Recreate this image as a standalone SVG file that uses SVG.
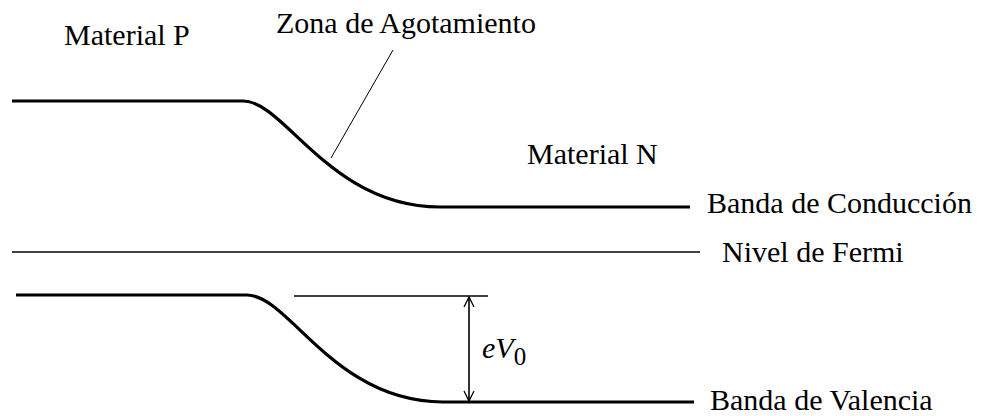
<svg xmlns="http://www.w3.org/2000/svg" width="982" height="416" viewBox="0 0 982 416">
<defs>
<marker id="open" viewBox="0 0 12 12" refX="11" refY="6" markerWidth="12" markerHeight="12" markerUnits="userSpaceOnUse" orient="auto-start-reverse">
<path d="M1,1 L11,6 L1,11" fill="none" stroke="#000" stroke-width="1.3"/>
</marker>
</defs>
<style>
text{font-family:"Liberation Serif","Times New Roman",serif;font-size:30px;fill:#000}
.band{fill:none;stroke:#000;stroke-width:3.2}
.thin{fill:none;stroke:#000;stroke-width:1.6}
.lead{fill:none;stroke:#000;stroke-width:1}
</style>
<rect width="982" height="416" fill="#fff"/>
<g id="connectors">
<path id="conduction-band" class="band" d="M12,101 L243,101 C285,101 330,207 440,207 L690,207"/>
<path id="fermi-level" class="thin" d="M12,252 L700,252"/>
<path id="valence-band" class="band" d="M16,295 L247,295 C289,295 334,402 443,402 L694,402"/>
<path id="ref-line" class="thin" d="M294,296 L488,296"/>
<path id="zona-lead" class="lead" d="M393,50 L331,158"/>
<path id="eV0-arrow" class="thin" d="M469,297 L469,401" marker-start="url(#open)" marker-end="url(#open)"/>
</g>
<g id="label-material-p"><text x="64" y="45">Material P</text></g>
<g id="label-zona"><text x="276" y="33">Zona de Agotamiento</text></g>
<g id="label-material-n"><text x="527" y="164">Material N</text></g>
<g id="label-conduccion"><text x="707" y="213">Banda de Conducción</text></g>
<g id="label-fermi"><text x="722" y="262">Nivel de Fermi</text></g>
<g id="label-valencia"><text x="710" y="410">Banda de Valencia</text></g>
<g id="label-ev0"><text x="482" y="358" font-size="34" font-style="italic">eV<tspan font-style="normal" font-size="25" dy="7">0</tspan></text></g>
</svg>
